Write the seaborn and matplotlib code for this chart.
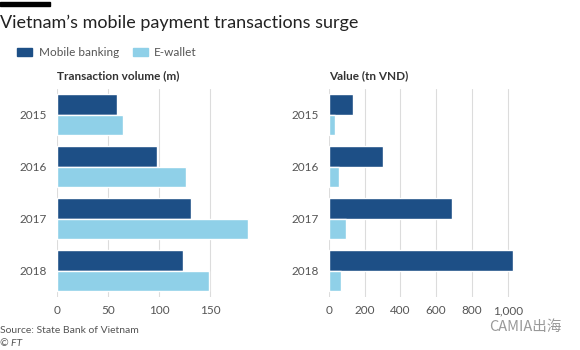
import matplotlib
matplotlib.use("Agg")
import matplotlib.pyplot as plt
import pandas as pd
import seaborn as sns

years = ["2015", "2016", "2017", "2018"]
series = ["Mobile banking", "E-wallet"]
volume_mobile = [59, 98, 131, 123]
volume_ewallet = [65, 126, 187, 149]
value_mobile = [135, 303, 690, 1028]
value_ewallet = [34, 56, 96, 67]

colors = ["#1d4f86", "#8fd0e8"]
grid_col = "#dcdcdc"
text_col = "#555555"


def long_frame(a, b):
    return pd.DataFrame({
        "year": years * 2,
        "series": [series[0]] * 4 + [series[1]] * 4,
        "val": a + b,
    })


sns.set_theme(style="white")
plt.rcParams["font.family"] = ["Lato", "DejaVu Sans"]

fig = plt.figure(figsize=(5.8, 3.5), dpi=100)
ax1 = fig.add_axes([0.098, 0.152, 0.36, 0.595])
ax2 = fig.add_axes([0.567, 0.152, 0.33, 0.595])

panels = [
    (ax1, long_frame(volume_mobile, volume_ewallet), "Transaction volume (m)",
     [0, 50, 100, 150], ["0", "50", "100", "150"], 204),
    (ax2, long_frame(value_mobile, value_ewallet), "Value (tn VND)",
     [0, 200, 400, 600, 800, 1000], ["0", "200", "400", "600", "800", "1,000"], 1070),
]

for ax, df, ttl, ticks, labels, xmax in panels:
    sns.barplot(data=df, y="year", x="val", hue="series", orient="h",
                palette=colors, width=0.78, saturation=1, legend=False,
                ax=ax, zorder=3)
    ax.set_xlim(0, xmax)
    ax.set_xticks(ticks)
    ax.set_xticklabels(labels)
    ax.grid(axis="x", color=grid_col, linewidth=0.8, zorder=0)
    ax.set_axisbelow(True)
    for s in ax.spines.values():
        s.set_visible(False)
    ax.set_xlabel("")
    ax.set_ylabel("")
    ax.tick_params(axis="both", labelsize=8.5, colors=text_col, length=0, pad=6)
    ax.tick_params(axis="y", length=3, color="#999999", width=0.6, pad=4)
    ax.set_title(ttl, loc="left", fontsize=8.5, fontweight="bold",
                 color="#333333", x=0.0, pad=7)

# black bar and title
fig.add_artist(plt.Rectangle((0.0, 0.983), 0.086, 0.012, transform=fig.transFigure,
                             color="black"))
fig.text(0.0, 0.935, "Vietnam\u2019s mobile payment transactions surge",
         fontsize=13, color="#222222", va="center")

# legend
fig.add_artist(plt.Rectangle((0.03, 0.84), 0.026, 0.022, transform=fig.transFigure,
                             color=colors[0]))
fig.text(0.067, 0.851, series[0], fontsize=8.5, color=text_col, va="center")
fig.add_artist(plt.Rectangle((0.229, 0.84), 0.026, 0.022, transform=fig.transFigure,
                             color=colors[1]))
fig.text(0.266, 0.851, series[1], fontsize=8.5, color=text_col, va="center")

fig.text(0.0, 0.057, "Source: State Bank of Vietnam", fontsize=7.5, color=text_col,
         va="center")
fig.text(0.0, 0.018, "\u00a9 FT", fontsize=7.5, color=text_col, va="center",
         style="italic")
fig.text(0.843, 0.066, "CAMIA出海", fontsize=10.5, color="#999999", va="center",
         family=["Noto Sans CJK SC", "DejaVu Sans"])

fig.savefig("out.png", dpi=100)
